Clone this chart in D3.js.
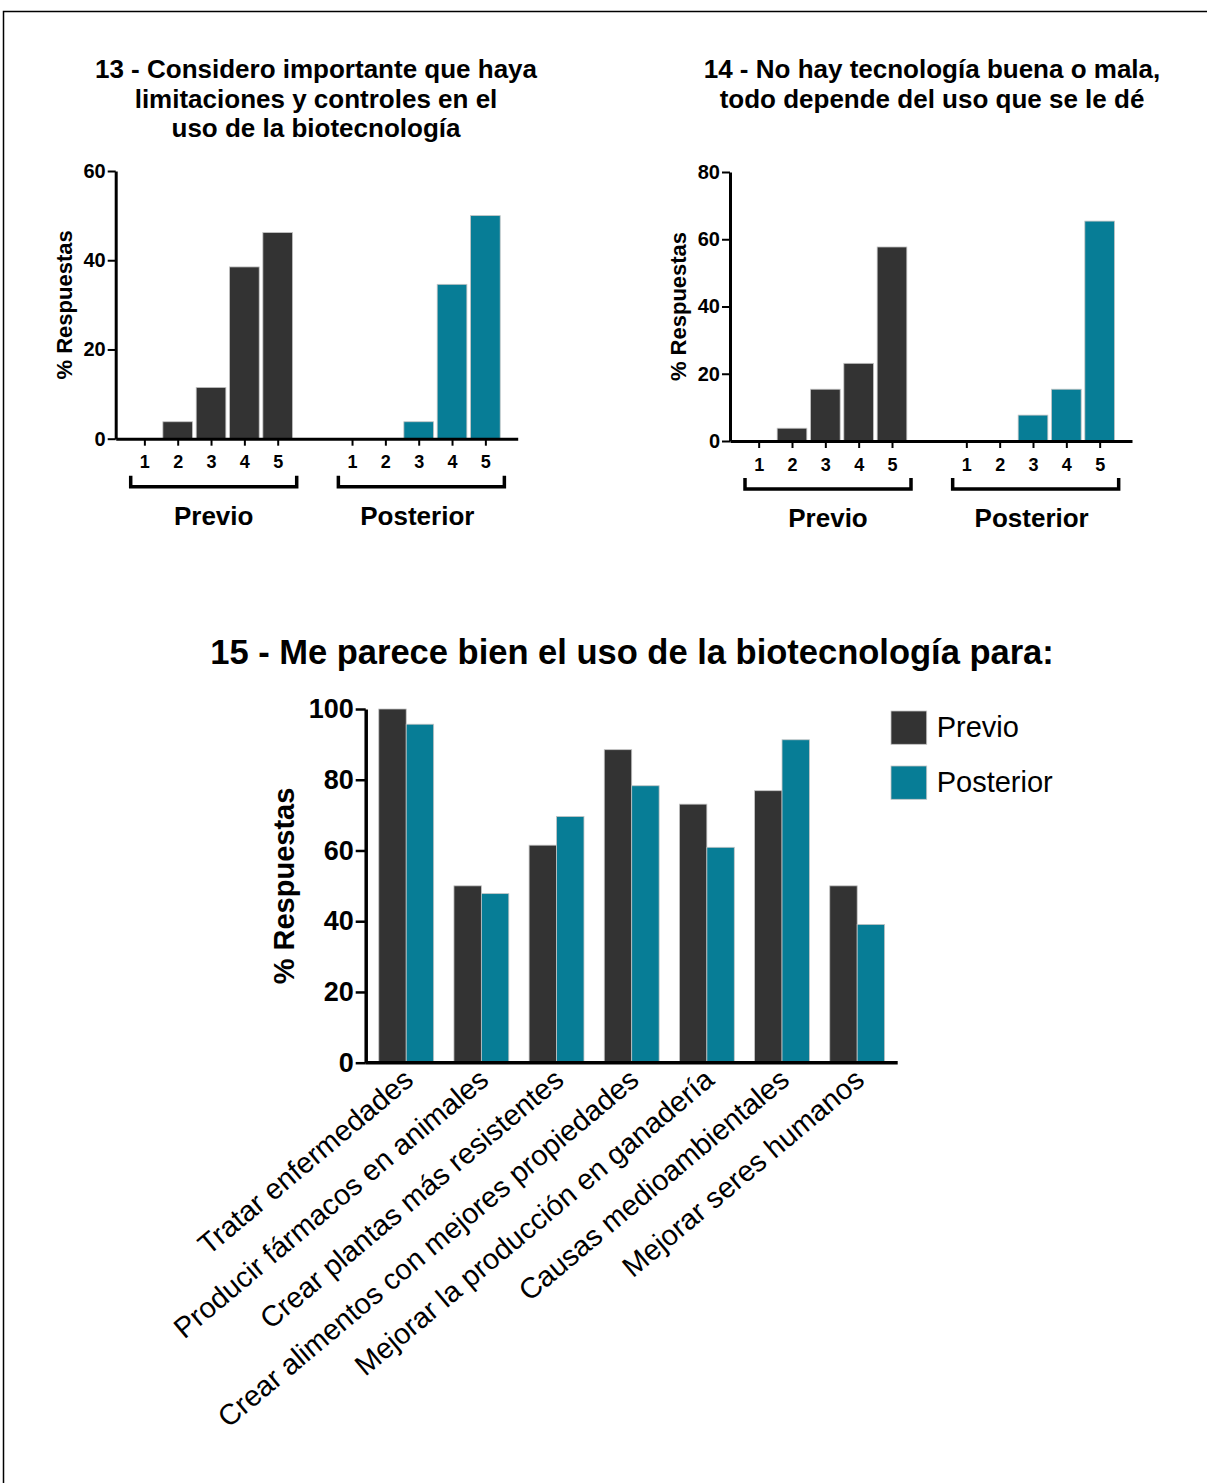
<!DOCTYPE html>
<html>
<head>
<meta charset="utf-8">
<script src="https://cdn.jsdelivr.net/npm/d3@7"></script>
<style>
  body { margin: 0; background: #fff; }
  svg { display: block; }
  text { font-family: "Liberation Sans", Arial, sans-serif; fill: #000; }
</style>
</head>
<body>
<svg id="fig" width="1207" height="1483"></svg>
<script>
// ---- data ----
const likert = [1, 2, 3, 4, 5];
const groups = ["Previo", "Posterior"];

const q13Title = ["13 - Considero importante que haya", "limitaciones y controles en el", "uso de la biotecnología"];
const q13Previo = [0, 3.8, 11.5, 38.5, 46.2];
const q13Posterior = [0, 0, 3.8, 34.6, 50];
const q13Ticks = [0, 20, 40, 60];

const q14Title = ["14 - No hay tecnología buena o mala,", "todo depende del uso que se le dé"];
const q14Previo = [0, 3.8, 15.4, 23.1, 57.7];
const q14Posterior = [0, 0, 7.7, 15.4, 65.4];
const q14Ticks = [0, 20, 40, 60, 80];

const q15Title = "15 - Me parece bien el uso de la biotecnología para:";
const q15Categories = [
  "Tratar enfermedades",
  "Producir fármacos en animales",
  "Crear plantas más resistentes",
  "Crear alimentos con mejores propiedades",
  "Mejorar la producción en ganadería",
  "Causas medioambientales",
  "Mejorar seres humanos"
];
const q15Previo = [100, 50, 61.5, 88.5, 73.1, 76.9, 50];
const q15Posterior = [95.7, 47.8, 69.6, 78.3, 60.9, 91.3, 39.1];
const q15Ticks = [0, 20, 40, 60, 80, 100];

const yLabel = "% Respuestas";
const colors = { Previo: "#333333", Posterior: "#077d96" };
const FONT = '"Liberation Sans", Arial, sans-serif';

const svg = d3.select("#fig");

// page frame (left and top rules)
svg.append("path")
  .attr("d", "M3.5,1483V11.5H1207")
  .attr("fill", "none").attr("stroke", "#000").attr("stroke-width", 1.5);

// ---- small Likert panels (questions 13 and 14) ----
function likertPanel(opts) {
  const { ox, oy, H, max, ticks, previo, posterior, title, titleX } = opts;
  const g = svg.append("g").attr("transform", `translate(${ox},${oy})`);

  // slot positions: Previo 1..5, Posterior shifted past the gap
  const gap = 6.23;
  const x = d3.scaleLinear().domain([0.14, 12.2]).range([0, 402]);
  const y = d3.scaleLinear().domain([0, max]).range([H, 0]);
  const barW = x(0.89) - x(0);

  const rows = [];
  likert.forEach((k, i) => {
    rows.push({ group: "Previo", slot: k, value: previo[i] });
    rows.push({ group: "Posterior", slot: k + gap, value: posterior[i] });
  });

  g.selectAll("rect.bar")
    .data(rows.filter(d => d.value > 0))
    .join("rect")
    .attr("class", "bar")
    .attr("x", d => x(d.slot) - barW / 2)
    .attr("width", barW)
    .attr("y", d => y(d.value))
    .attr("height", d => y(0) - y(d.value))
    .attr("fill", d => colors[d.group])
    .attr("stroke", "#c4c4c4")
    .attr("stroke-width", 0.8);

  // y axis
  const ya = g.append("g")
    .call(d3.axisLeft(y).tickValues(ticks).tickSize(8).tickSizeOuter(0).tickPadding(2));
  ya.select(".domain").attr("stroke-width", 3);
  ya.selectAll(".tick line").attr("stroke-width", 2);
  ya.selectAll("text").style("font-size", "20px").style("font-weight", "bold")
    .style("font-family", FONT);

  // x axis
  const slots = likert.map(k => k).concat(likert.map(k => k + gap));
  const xa = g.append("g").attr("transform", `translate(0,${H})`)
    .call(d3.axisBottom(x).tickValues(slots).tickSize(7).tickSizeOuter(0).tickPadding(10)
      .tickFormat((d, i) => likert[i % 5]));
  xa.select(".domain").attr("stroke-width", 3);
  xa.selectAll(".tick line").attr("stroke-width", 2);
  xa.selectAll("text").style("font-size", "18px").style("font-weight", "bold")
    .style("font-family", FONT);

  // group brackets and names
  [["Previo", 0, 0], ["Posterior", gap, -4]].forEach(([name, off, shift]) => {
    const x0 = x(1 + off - 0.41), x1 = x(5 + off + 0.57);
    g.append("path")
      .attr("d", `M${x0},${H + 37}V${H + 48}H${x1}V${H + 37}`)
      .attr("fill", "none").attr("stroke", "#000").attr("stroke-width", 3.5);
    g.append("text")
      .attr("x", (x0 + x1) / 2 + shift).attr("y", H + 86)
      .attr("text-anchor", "middle")
      .style("font-size", "26px").style("font-weight", "bold")
      .text(name);
  });

  // y label
  g.append("text")
    .attr("transform", `translate(${-44},${H / 2}) rotate(-90)`)
    .attr("text-anchor", "middle")
    .style("font-size", "22px").style("font-weight", "bold")
    .text(yLabel);

  // title
  svg.append("g").selectAll("text")
    .data(title).join("text")
    .attr("x", titleX).attr("y", (d, i) => 78 + i * 29.5)
    .attr("text-anchor", "middle")
    .style("font-size", "26px").style("font-weight", "bold")
    .text(d => d);
}

likertPanel({ ox: 115.7, oy: 171, H: 267.7, max: 60, ticks: q13Ticks,
  previo: q13Previo, posterior: q13Posterior, title: q13Title, titleX: 316 });
likertPanel({ ox: 730, oy: 172, H: 269, max: 80, ticks: q14Ticks,
  previo: q14Previo, posterior: q14Posterior, title: q14Title, titleX: 932 });

// ---- grouped bar chart (question 15) ----
(function () {
  const ox = 365.7, oy = 709, H = 353.7, W = 532;
  const g = svg.append("g").attr("transform", `translate(${ox},${oy})`);

  const x0 = d3.scaleBand().domain(q15Categories).range([0, W])
    .paddingInner(0.27).paddingOuter(0.174);
  const x1 = d3.scaleBand().domain(groups).range([0, x0.bandwidth()]);
  const y = d3.scaleLinear().domain([0, 100]).range([H, 0]);

  const rows = q15Categories.map((c, i) => ({
    category: c,
    values: [
      { group: "Previo", value: q15Previo[i] },
      { group: "Posterior", value: q15Posterior[i] }
    ]
  }));

  g.selectAll("g.cat").data(rows).join("g")
    .attr("class", "cat")
    .attr("transform", d => `translate(${x0(d.category)},0)`)
    .selectAll("rect").data(d => d.values).join("rect")
    .attr("x", d => x1(d.group))
    .attr("width", x1.bandwidth())
    .attr("y", d => y(d.value))
    .attr("height", d => y(0) - y(d.value))
    .attr("fill", d => colors[d.group])
    .attr("stroke", "#c4c4c4")
    .attr("stroke-width", 0.8);

  const ya = g.append("g")
    .call(d3.axisLeft(y).tickValues(q15Ticks).tickSize(10).tickSizeOuter(0).tickPadding(2));
  ya.select(".domain").attr("stroke-width", 3.5);
  ya.selectAll(".tick line").attr("stroke-width", 2.5);
  ya.selectAll("text").style("font-size", "27px").style("font-weight", "bold")
    .style("font-family", FONT);

  g.append("line")
    .attr("x1", 0).attr("x2", W).attr("y1", H).attr("y2", H)
    .attr("stroke", "#000").attr("stroke-width", 3.5);

  // rotated category labels
  g.selectAll("text.cat-label").data(q15Categories).join("text")
    .attr("class", "cat-label")
    .attr("text-anchor", "end")
    .attr("transform", d => `translate(${x0(d) + x0.bandwidth() / 2 + 9},${H + 20}) rotate(-40)`)
    .style("font-size", "29px")
    .text(d => d);

  // y label
  g.append("text")
    .attr("transform", `translate(${284 - ox},${886 - oy}) rotate(-90)`)
    .attr("text-anchor", "middle")
    .attr("dy", "0.35em")
    .style("font-size", "29px").style("font-weight", "bold")
    .text(yLabel);

  // title
  svg.append("text")
    .attr("x", 632).attr("y", 664)
    .attr("text-anchor", "middle")
    .style("font-size", "34.5px").style("font-weight", "bold")
    .text(q15Title);

  // legend
  const lg = svg.append("g").attr("transform", "translate(891,711)");
  groups.forEach((name, i) => {
    lg.append("rect")
      .attr("x", 0).attr("y", i * 55)
      .attr("width", 35.7).attr("height", 33.3)
      .attr("fill", colors[name])
      .attr("stroke", "#c4c4c4").attr("stroke-width", 0.8);
    lg.append("text")
      .attr("x", 45.7).attr("y", i * 55 + 25.5)
      .style("font-size", "29px")
      .text(name);
  });
})();
</script>
</body>
</html>
